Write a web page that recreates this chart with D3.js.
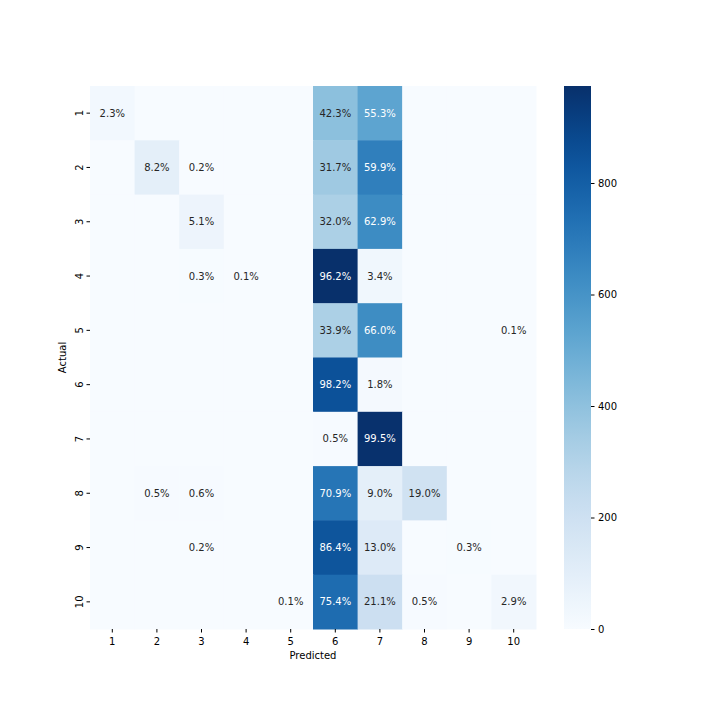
<!DOCTYPE html>
<html>
<head>
<meta charset="utf-8">
<script src="https://cdn.jsdelivr.net/npm/d3@7"></script>
<style>
  body { margin: 0; background: #fff; }
  svg text { font-family: 'DejaVu Sans', sans-serif; }
</style>
</head>
<body>
<script>
const classes = ['1', '2', '3', '4', '5', '6', '7', '8', '9', '10']

// percent of each actual row going to each predicted column (0 = empty cell)
const percents = [
  [2.3, 0, 0, 0, 0, 42.3, 55.3, 0, 0, 0],
  [0, 8.2, 0.2, 0, 0, 31.7, 59.9, 0, 0, 0],
  [0, 0, 5.1, 0, 0, 32.0, 62.9, 0, 0, 0],
  [0, 0, 0.3, 0.1, 0, 96.2, 3.4, 0, 0, 0],
  [0, 0, 0, 0, 0, 33.9, 66.0, 0, 0, 0.1],
  [0, 0, 0, 0, 0, 98.2, 1.8, 0, 0, 0],
  [0, 0, 0, 0, 0, 0.5, 99.5, 0, 0, 0],
  [0, 0.5, 0.6, 0, 0, 70.9, 9.0, 19.0, 0, 0],
  [0, 0, 0.2, 0, 0, 86.4, 13.0, 0, 0.3, 0],
  [0, 0, 0, 0, 0.1, 75.4, 21.1, 0.5, 0, 2.9]
]

// estimated samples per actual class (sets the cell colour)
const rowTotals = [960, 1130, 1000, 1012, 950, 866, 975, 1010, 970, 995]

const colorbarTicks = [0, 200, 400, 600, 800]

const cells = []
percents.forEach((row, i) => {
  row.forEach((p, j) => {
    cells.push({
      actual: classes[i],
      predicted: classes[j],
      pct: p,
      count: Math.round(p * rowTotals[i] / 100)
    })
  })
})

const W = 720, H = 720
const plot = { left: 90, right: 536, top: 86, bottom: 629 }
const cbar = { left: 564, right: 591 }

const svg = d3.select('body').append('svg')
  .attr('width', W)
  .attr('height', H)

const x = d3.scaleBand().domain(classes).range([plot.left, plot.right])
const y = d3.scaleBand().domain(classes).range([plot.top, plot.bottom])
const vmax = d3.max(cells, d => d.count)
const color = d3.scaleSequential(d3.interpolateBlues).domain([0, vmax])

// same light/dark switch seaborn uses for annotations
const textColor = fill => {
  const c = d3.rgb(fill)
  const lin = v => {
    v /= 255
    return v <= 0.03928 ? v / 12.92 : Math.pow((v + 0.055) / 1.055, 2.4)
  }
  const lum = 0.2126 * lin(c.r) + 0.7152 * lin(c.g) + 0.0722 * lin(c.b)
  return lum > 0.408 ? '#262626' : '#ffffff'
}

const grid = svg.append('g').attr('class', 'cells')
grid.selectAll('rect')
  .data(cells)
  .enter()
  .append('rect')
  .attr('x', d => x(d.predicted))
  .attr('y', d => y(d.actual))
  .attr('width', x.bandwidth() + 0.5)
  .attr('height', y.bandwidth() + 0.5)
  .attr('fill', d => color(d.count))

grid.selectAll('text')
  .data(cells.filter(d => d.pct > 0))
  .enter()
  .append('text')
  .attr('x', d => x(d.predicted) + x.bandwidth() / 2)
  .attr('y', d => y(d.actual) + y.bandwidth() / 2)
  .attr('text-anchor', 'middle')
  .attr('dominant-baseline', 'central')
  .attr('font-size', 10)
  .attr('fill', d => textColor(color(d.count)))
  .text(d => d.pct.toFixed(1) + '%')

const xAxis = svg.append('g')
  .attr('transform', `translate(0, ${plot.bottom})`)
  .call(d3.axisBottom(x).tickSize(3.5).tickPadding(5.5))
xAxis.select('.domain').remove()
xAxis.selectAll('text').attr('font-size', 10).attr('fill', '#000')

const yAxis = svg.append('g')
  .attr('transform', `translate(${plot.left}, 0)`)
  .call(d3.axisLeft(y).tickSize(3.5).tickPadding(0))
yAxis.select('.domain').remove()
yAxis.selectAll('.tick text')
  .attr('font-size', 10)
  .attr('fill', '#000')
  .attr('x', 0)
  .attr('dy', 0)
  .attr('text-anchor', 'middle')
  .attr('dominant-baseline', 'auto')
  .attr('transform', 'translate(-7.5, 0) rotate(-90)')

svg.append('text')
  .attr('x', (plot.left + plot.right) / 2)
  .attr('y', 659)
  .attr('text-anchor', 'middle')
  .attr('font-size', 10)
  .text('Predicted')

svg.append('text')
  .attr('transform', `translate(66, ${(plot.top + plot.bottom) / 2}) rotate(-90)`)
  .attr('text-anchor', 'middle')
  .attr('font-size', 10)
  .text('Actual')

// colorbar
const cy = d3.scaleLinear().domain([0, vmax]).range([plot.bottom, plot.top])
const defs = svg.append('defs')
const grad = defs.append('linearGradient')
  .attr('id', 'cbar-grad')
  .attr('x1', 0).attr('y1', 1)
  .attr('x2', 0).attr('y2', 0)
grad.selectAll('stop')
  .data(d3.range(0, 1.0001, 0.05))
  .enter()
  .append('stop')
  .attr('offset', d => d)
  .attr('stop-color', d => d3.interpolateBlues(d))

svg.append('rect')
  .attr('x', cbar.left)
  .attr('y', plot.top)
  .attr('width', cbar.right - cbar.left)
  .attr('height', plot.bottom - plot.top)
  .attr('fill', 'url(#cbar-grad)')

const cAxis = svg.append('g')
  .attr('transform', `translate(${cbar.right}, 0)`)
  .call(d3.axisRight(cy).tickValues(colorbarTicks).tickSize(3.5).tickPadding(3.5))
cAxis.select('.domain').remove()
cAxis.selectAll('text').attr('font-size', 10).attr('fill', '#000')
</script>
</body>
</html>
